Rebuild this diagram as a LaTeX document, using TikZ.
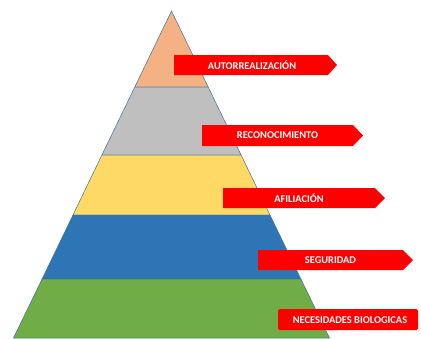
\documentclass[tikz,border=0pt]{standalone}
\usepackage{fontspec}
\setmainfont{Carlito}
\definecolor{lorange}{HTML}{F4B183}
\definecolor{lgray}{HTML}{BFBFBF}
\definecolor{lyellow}{HTML}{FFD966}
\definecolor{lblue}{HTML}{2E75B6}
\definecolor{lgreen}{HTML}{70AD47}
\definecolor{edgec}{HTML}{41719C}
\definecolor{tagred}{HTML}{FF0000}
\begin{document}
\begin{tikzpicture}[x=1pt,y=-1pt,
  layer/.style={draw=edgec,line width=0.5pt,line join=miter},
  tag/.style={fill=tagred},
  tagtext/.style={text=white,font=\bfseries\fontsize{10.4}{12}\selectfont,inner sep=0pt}]
\useasboundingbox (0,0) rectangle (421,338);
\fill[white] (0,0) rectangle (421,338);
% pyramid layers
\path[layer,fill=lorange] (171.5,11) -- (208.2,87) -- (134.8,87) -- cycle;
\path[layer,fill=lgray] (134.8,87) -- (208.2,87) -- (241.1,155) -- (101.9,155) -- cycle;
\path[layer,fill=lyellow] (101.9,155) -- (241.1,155) -- (270,215) -- (73,215) -- cycle;
\path[layer,fill=lblue] (73,215) -- (270,215) -- (300.9,279) -- (42.1,279) -- cycle;
\path[layer,fill=lgreen] (42.1,279) -- (300.9,279) -- (329.5,338) -- (13.5,338) -- cycle;
% tags
\path[tag] (174,55) -- (328,55) -- (337,65) -- (328,75) -- (174,75) -- cycle;
\node[tagtext] (t1) at (252,65.5) {AUTORREALIZACIÓN};
\path[tag] (202,125) -- (353,125) -- (363,135.5) -- (353,146) -- (202,146) -- cycle;
\node[tagtext] (t2) at (277.5,135.5) {RECONOCIMIENTO};
\path[tag] (223,188) -- (375,188) -- (385,198) -- (375,208) -- (223,208) -- cycle;
\node[tagtext] (t3) at (299,198.5) {AFILIACIÓN};
\path[tag] (258,250) -- (403,250) -- (413,260) -- (403,270) -- (258,270) -- cycle;
\node[tagtext] (t4) at (330.5,260.5) {SEGURIDAD};
\path[tag,rounded corners=1.5pt] (278,309) rectangle (418,330);
\node[tagtext] (t5) at (350,320) {NECESIDADES BIOLOGICAS};
\end{tikzpicture}
\end{document}
